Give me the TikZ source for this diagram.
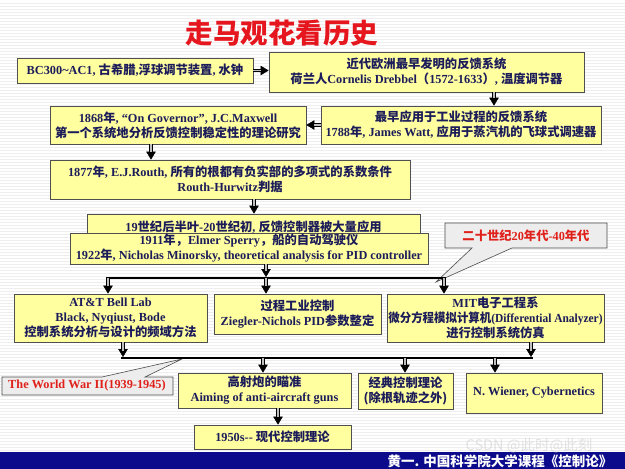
\documentclass[tikz,border=0pt]{standalone}
\usepackage{fontspec}
\setmainfont{Liberation Serif}
\newfontfamily\cjk{Noto Sans CJK SC}
\usetikzlibrary{arrows.meta,calc}
\newcommand\zh[1]{{\cjk #1}}
\definecolor{boxfill}{HTML}{FFFFA0}
\definecolor{boxline}{HTML}{505050}
\definecolor{txt}{HTML}{1C1C5A}
\definecolor{titlered}{HTML}{E5161D}
\definecolor{calred}{HTML}{E0201A}
\definecolor{band}{HTML}{0B0B8C}
\tikzset{
 box/.style={draw=boxline, line width=0.8pt, fill=boxfill, text=txt,
   font=\fontsize{12.3}{15}\selectfont\bfseries, align=center, inner sep=0pt},
 arr/.style={draw=black, line width=3.2pt,
   -{Triangle[length=8pt,width=9.5pt,line width=0.4pt]},
   postaction={draw=gray!50, line width=1.2pt, shorten >=7.5pt, -}},
 bus/.style={draw=black, line width=2pt, shorten <=-1.6pt, shorten >=-1.6pt},
 callout/.style={draw=gray!60!black, line width=0.6pt, fill=gray!14},
 caltext/.style={text=calred, font=\fontsize{12.3}{15}\selectfont\bfseries, inner sep=0pt},
}
\newcommand\yb[6]{\node[box, minimum width={(#4-#2)*1pt}, minimum height={(#5-#3)*1pt}] (#1) at ({(#2+#4)/2},{(#3+#5)/2}) {#6};}
\begin{document}
\begin{tikzpicture}[x=1pt,y=-1pt]
\useasboundingbox (0,0) rectangle (625,469);
\fill[white] (0,0) rectangle (625,469);
\foreach \i in {1,...,150} \draw[gray!13, line width=1pt] (0,\i*3) -- (625,\i*3);

% title
\node[text=titlered, font=\cjk\fontsize{27.5}{30}\selectfont\bfseries] (title) at (282,33) {走马观花看历史};

% callouts (drawn first)
\draw[callout] (445,223) -- (607,223) -- (607,248) -- (512,248) -- (436,282) -- (472,248) -- (445,248) -- cycle;
\node[caltext] (c1) at (526,235.5) {\zh{二十世纪}20\zh{年代}-40\zh{年代}};
\draw[callout] (2,377) -- (102,377) -- (182,359) -- (145,377) -- (173,377) -- (173,395) -- (2,395) -- cycle;
\node[caltext] (c2) at (87,386) {The World War II(1939-1945)};

% boxes
\yb{A}{17}{58}{253}{83}{BC300\textasciitilde AC1, \zh{古希腊},\zh{浮球调节装置}, \zh{水钟}}
\yb{B}{269}{52}{584}{92}{\zh{近代欧洲最早发明的反馈系统}\\ \zh{荷兰人}Cornelis Drebbel\zh{（}1572-1633\zh{）}, \zh{温度调节器}}
\yb{C}{321}{106}{601}{144}{\zh{最早应用于工业过程的反馈系统}\\ 1788\zh{年}, James Watt, \zh{应用于蒸汽机的飞球式调速器}}
\yb{D}{50}{106}{306}{144}{1868\zh{年}, “On Governor”, J.C.Maxwell\\ \zh{第一个系统地分析反馈控制稳定性的理论研究}}
\yb{E}{50}{160}{410}{199}{1877\zh{年}, E.J.Routh, \zh{所有的根都有负实部的多项式的系数条件}\\ Routh-Hurwitz\zh{判据}}
\node[box, minimum width=333pt, minimum height=24pt, text depth=0pt] (F) at (253.5,226) {19\zh{世纪后半叶}-20\zh{世纪初}, \zh{反馈控制器被大量应用}};
\yb{G}{70}{233}{428}{264}{1911\zh{年，}Elmer Sperry\zh{，船的自动驾驶仪}\\ 1922\zh{年}, Nicholas Minorsky, theoretical analysis for PID controller}
\yb{H}{14}{294}{207}{342}{AT\&T Bell Lab\\ Black, Nyqiust, Bode\\ \zh{控制系统分析与设计的频域方法}}
\yb{I}{214}{294}{381}{334}{\zh{过程工业控制}\\ Ziegler-Nichols PID\zh{参数整定}}
\yb{J}{387}{294}{604}{342}{MIT\zh{电子工程系}\\ \scalebox{0.93}[1]{\zh{微分方程模拟计算机}(Differential Analyzer)}\\ \zh{进行控制系统仿真}}
\yb{K}{178}{373}{351}{408}{\zh{高射炮的瞄准}\\ Aiming of anti-aircraft guns}
\yb{L}{358}{373}{453}{409}{\zh{经典控制理论}\\ \zh{(除根轨迹之外)}}
\yb{M}{466}{373}{602}{413}{N. Wiener, Cybernetics}
\yb{N}{194}{425}{351}{449}{1950s-{}- \zh{现代控制理论}}

% connectors
\coordinate (bc) at (494,0);
\coordinate (cd) at (0,125);
\coordinate (de) at (151,0);
\coordinate (ef) at (254,0);
\draw[arr] (A.east) -- (A.east -| B.west);
\draw[arr] (bc |- B.south) -- (bc |- C.north);
\draw[arr] (cd -| C.west) -- (cd -| D.east);
\draw[arr] (de |- D.south) -- (de |- E.north);
\draw[arr] (ef |- E.south) -- (ef |- F.north);

\coordinate (b1l) at (108,278);
\coordinate (b1m) at (266,278);
\coordinate (b1r) at (444,278);
\draw[arr, shorten >=1pt] (b1m |- G.south) -- (b1m);
\draw[bus] (b1l) -- (b1r);
\draw[arr] (b1l) -- (b1l |- H.north);
\draw[arr] (b1m) -- (b1m |- I.north);
\draw[arr] (b1r) -- (b1r |- J.north);

\coordinate (b2l) at (123,358);
\coordinate (b2r) at (531,358);
\coordinate (b2a) at (263,358);
\coordinate (b2b) at (405,358);
\coordinate (b2c) at (495,358);
\draw[arr, shorten >=1pt] (b2l |- H.south) -- (b2l);
\draw[arr, shorten >=1pt] (b2r |- J.south) -- (b2r);
\draw[bus] (b2l) -- (b2r);
\draw[arr] (b2a) -- (b2a |- K.north);
\draw[arr] (b2b) -- (b2b |- L.north);
\draw[arr] (b2c) -- (b2c |- M.north);

\coordinate (kn) at (278,0);
\draw[arr] (kn |- K.south) -- (kn |- N.north);

% bottom band
\fill[band] (0,452) rectangle (625,469);
\node[text=white, font=\cjk\fontsize{13.5}{15}\selectfont\bfseries, inner sep=0pt] (credit) at (500,461.5) {黄一. 中国科学院大学课程《控制论》};
\node[text=gray!40, opacity=0.55, font=\cjk\fontsize{14.5}{16}\selectfont, inner sep=0pt] (wm) at (529,446) {CSDN @此时@此刻};
\end{tikzpicture}
\end{document}
